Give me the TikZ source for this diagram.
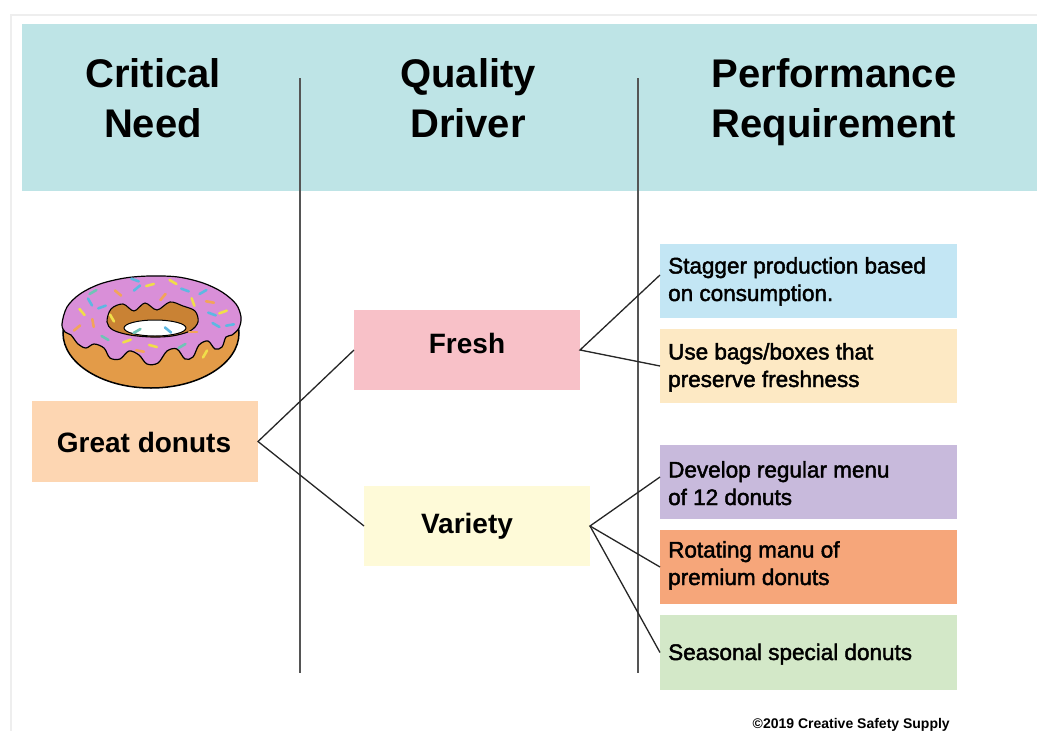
\documentclass[tikz,border=0pt]{standalone}
\usepackage{fontspec}
\setmainfont{Liberation Sans}
\newfontfamily\medfont[FakeBold=2]{Liberation Sans}
\usetikzlibrary{calc}
\definecolor{headbg}{HTML}{BEE4E6}
\definecolor{framegray}{HTML}{EEEEEE}
\definecolor{linegray}{HTML}{555555}
\definecolor{cpeach}{HTML}{FDD6B2}
\definecolor{cpink}{HTML}{F8C1C8}
\definecolor{cyellow}{HTML}{FEFAD8}
\definecolor{cblue}{HTML}{C3E6F4}
\definecolor{ccream}{HTML}{FDE9C4}
\definecolor{cpurple}{HTML}{C8BADC}
\definecolor{corange}{HTML}{F6A67A}
\definecolor{cgreen}{HTML}{D3E8C8}
\definecolor{dbody}{HTML}{E39B48}
\definecolor{dinner}{HTML}{C98234}
\definecolor{dicing}{HTML}{D98FD8}
\definecolor{sy}{HTML}{F0DE4A}
\definecolor{sb}{HTML}{5DB8E2}
\definecolor{so}{HTML}{F2A45A}
\definecolor{st}{HTML}{6FC4B6}
\tikzset{
  box/.style={inner sep=0pt, outer sep=0pt, draw=none},
  headtxt/.style={font=\fontsize{40}{50}\selectfont\bfseries, align=center, anchor=base, inner sep=0pt},
  midtxt/.style={font=\fontsize{28}{34}\selectfont\bfseries, anchor=base, inner sep=0pt},
  reqtxt/.style={font=\fontsize{22.5}{27.5}\selectfont\medfont, align=left, anchor=base west, inner sep=0pt},
  conn/.style={draw=black!85, line width=1.3pt},
  vline/.style={draw=linegray, line width=1.6pt},
  spr/.style={line width=2.6pt, line cap=round}
}
\begin{document}
\begin{tikzpicture}[x=1pt,y=-1pt]
\useasboundingbox (0,0) rectangle (1037,731);
\fill[white] (0,0) rectangle (1037,731);
% frame
\draw[framegray, line width=2pt] (11,740) -- (11,15) -- (1045,15);
% header band
\fill[headbg] (22,24) rectangle (1037,191);
\node[headtxt] (h1) at (153,137) {Critical\\Need};
\node[headtxt] (h2) at (468,137) {Quality\\Driver};
\node[headtxt] (h3) at (834,137) {Performance\\Requirement};
% column separators
\coordinate (v1t) at (300,78); \coordinate (v1b) at (300,673);
\coordinate (v2t) at (638,78); \coordinate (v2b) at (638,673);
\draw[vline] (v1t) -- (v1b);
\draw[vline] (v2t) -- (v2b);
% donut
\begin{scope}
\fill[dbody, draw=black, line width=1.5pt] (151,333) ellipse [x radius=88pt, y radius=55pt];
\fill[dicing, draw=black, line width=1.2pt] plot[smooth cycle, tension=0.55] coordinates {
 (62,324) (67,307) (80,294) (100,284) (125,278) (150,276) (178,277) (203,283) (222,292) (236,304) (241,317) (239,328)
 (232,335) (226,337) (222,347) (215,349) (208,341) (199,345) (193,357) (185,359) (177,349) (167,351) (158,363) (147,364)
 (139,355) (129,351) (120,359) (110,358) (104,348) (94,344) (86,348) (78,344) (71,335) (65,332)};
\fill[dinner, draw=black, line width=1.1pt] plot[smooth cycle, tension=0.55] coordinates {
 (107,322) (111,309) (123,304) (134,311) (145,303) (157,310) (170,302) (183,306) (195,311) (198,322) (190,331) (172,336) (152,337) (130,335) (113,330)};
\fill[white, draw=black, line width=1pt] (155,328) ellipse [x radius=31pt, y radius=8pt];
\foreach \x/\y/\a/\c in {135/280/20/sb,150/285/-15/sy,173/282/30/sy,93/292/-30/st,118/293/40/so,137/288/-40/sb,
  163/297/-50/so,185/290/20/sb,203/292/-30/sb,90/302/60/sb,102/307/-20/sb,193/302/70/sy,210/302/10/so,223/312/-20/sy,
  82/312/50/sy,212/314/20/sb,93/323/80/so,230/325/-10/sb,216/325/30/sb,137/331/-30/st,168/330/40/sb,193/332/0/so,
  105/338/30/st,127/341/-20/sy,153/346/15/sy,182/346/-30/st,140/351/10/so,112/318/60/sy,77/328/-40/so,205/354/-60/sy}
  { \draw[\c, spr] ($(\x,\y)+(\a:4)$) -- ($(\x,\y)+(\a+180:4)$); }
\end{scope}
% boxes
\node[box, fill=cpeach, minimum width=226pt, minimum height=81pt] (gd) at (145,441.5) {};
\node[box, fill=cpink, minimum width=226pt, minimum height=80pt] (fresh) at (467,350) {};
\node[box, fill=cyellow, minimum width=226pt, minimum height=80pt] (variety) at (477,526) {};
\node[box, fill=cblue, minimum width=297pt, minimum height=74pt] (stagger) at (808.5,281) {};
\node[box, fill=ccream, minimum width=297pt, minimum height=74pt] (bags) at (808.5,366) {};
\node[box, fill=cpurple, minimum width=297pt, minimum height=74pt] (develop) at (808.5,482) {};
\node[box, fill=corange, minimum width=297pt, minimum height=74pt] (rotating) at (808.5,567) {};
\node[box, fill=cgreen, minimum width=297pt, minimum height=75pt] (seasonal) at (808.5,652.5) {};
% texts
\node[midtxt] (tgd) at (144,452) {Great donuts};
\node[midtxt] (tfresh) at (467,353) {Fresh};
\node[midtxt] (tvar) at (467,533) {Variety};
\node[reqtxt] (t1) at (668,301) {Stagger production based\\on consumption.};
\node[reqtxt] (t2) at (668,387) {Use bags/boxes that\\preserve freshness};
\node[reqtxt] (t3) at (668,505) {Develop regular menu\\of 12 donuts};
\node[reqtxt] (t4) at (668,585) {Rotating manu of\\premium donuts};
\node[reqtxt] (t5) at (668,660) {Seasonal special donuts};
% connectors
\draw[conn] (fresh.west) -- (gd.east) -- (variety.west);
\draw[conn] ([yshift=6pt]stagger.west) -- (fresh.east) -- (bags.west);
\draw[conn] ([yshift=5pt]develop.west) -- (variety.east) -- (rotating.west);
\draw[conn] (variety.east) -- (seasonal.west);
% credit
\node[font=\fontsize{14}{16}\selectfont\bfseries, anchor=base east, inner sep=0pt] (credit) at (950,728) {©2019 Creative Safety Supply};
\end{tikzpicture}
\end{document}
